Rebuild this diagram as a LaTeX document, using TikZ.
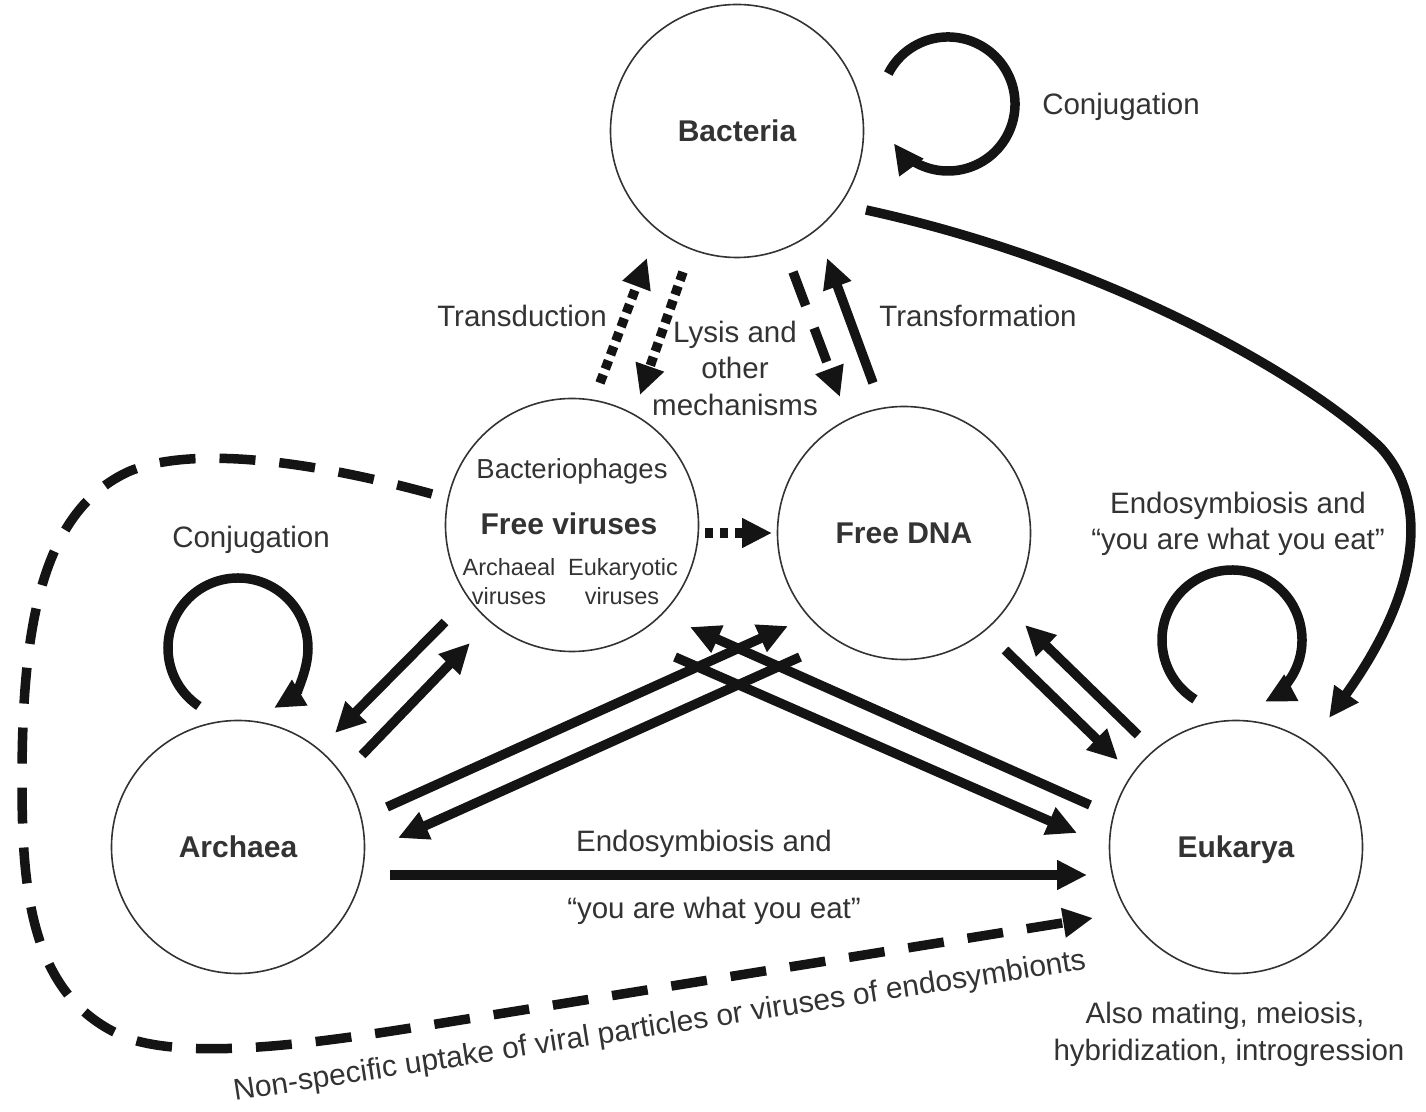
\documentclass[tikz,border=0pt]{standalone}
\usepackage{fontspec}
\setmainfont{Liberation Sans}
\usetikzlibrary{arrows.meta,calc}
\definecolor{ink}{HTML}{141414}
\definecolor{txt}{HTML}{333333}
\definecolor{circgray}{HTML}{333333}
\begin{document}
\begin{tikzpicture}[x=1pt,y=1pt,
  circ/.style={circle, draw=circgray, line width=1.6pt, minimum size=253pt, inner sep=0pt,
    font=\bfseries\fontsize{30}{36}\selectfont, text=txt, text depth=0pt},
  lbl/.style={font=\fontsize{29.5}{36}\selectfont, text=txt, inner sep=0pt, anchor=base},
  smalltxt/.style={font=\fontsize{23.5}{29}\selectfont, text=txt, inner sep=0pt, anchor=base},
  arr/.style={draw=ink, line width=9.5pt, -{Triangle[length=30pt,width=28pt]}},
  dotline/.style={dash pattern=on 9pt off 6pt},
  dashline/.style={dash pattern=on 36pt off 24pt},
]
\useasboundingbox (0,0) rectangle (1426,1111);

% circles
\node[circ] (bac) at (737,980) {Bacteria};
\node[circ] (fv)  at (572,586) {};
\node[circ] (dna) at (904,578) {Free DNA};
\node[circ] (arc) at (238,264) {Archaea};
\node[circ] (euk) at (1236,264) {Eukarya};

% free viruses contents
\node[lbl, font=\fontsize{27.5}{33}\selectfont] (phage) at (572,632) {Bacteriophages};
\node[lbl, font=\bfseries\fontsize{30}{36}\selectfont] (fvt) at (569,576) {Free viruses};
\node[smalltxt] (av1) at (509,535) {Archaeal};
\node[smalltxt] (av2) at (509,506) {viruses};
\node[smalltxt] (ev1) at (623,535) {Eukaryotic};
\node[smalltxt] (ev2) at (622,506) {viruses};

% labels
\node[lbl] (conjB) at (1121,996) {Conjugation};
\node[lbl] (conjA) at (251,563) {Conjugation};
\node[lbl] (transd) at (522,784) {Transduction};
\node[lbl] (transf) at (978,784) {Transformation};
\node[lbl] (lys1) at (735,768) {Lysis and};
\node[lbl] (lys2) at (735,732) {other};
\node[lbl] (lys3) at (735,695) {mechanisms};
\node[lbl] (endR1) at (1238,597) {Endosymbiosis and};
\node[lbl] (endR2) at (1238,561) {``you are what you eat''};
\node[lbl] (endM1) at (704,259) {Endosymbiosis and};
\node[lbl] (endM2) at (714,192) {``you are what you eat''};
\node[lbl] (also1) at (1225,88) {Also mating, meiosis,};
\node[lbl] (also2) at (1229,51) {hybridization, introgression};
\node[lbl, font=\fontsize{30}{36}\selectfont, rotate=8.8] (nonsp) at (661,76) {Non-specific uptake of viral particles or viruses of endosymbionts};

% self loops
\draw[arr] ($(948,1007)+(153:67)$) arc[start angle=153, end angle=-144, radius=67];
\draw[arr] ($(238,463)+(236:70)$) arc[start angle=236, end angle=-59, radius=70];
\draw[arr] ($(1232,471)+(238:70)$) arc[start angle=238, end angle=-62, radius=70];

% connector end points
\coordinate (tdUs) at (600,728);  \coordinate (tdUe) at (647,853);
\coordinate (tdDs) at (683,839);  \coordinate (tdDe) at (640,716);
\coordinate (lyDs) at (793,839);  \coordinate (lyDe) at (840,714);
\coordinate (tfUs) at (873,728);  \coordinate (tfUe) at (827,853);
\coordinate (fdS) at (705,578);   \coordinate (fdE) at (772,578);
\coordinate (faS) at (445,489);   \coordinate (faE) at (335,378);
\coordinate (afS) at (362,356);   \coordinate (afE) at (470,468);
\coordinate (adS) at (387,304);   \coordinate (adE) at (788,485);
\coordinate (daS) at (800,454);   \coordinate (daE) at (398,273);
\coordinate (feS) at (675,454);   \coordinate (feE) at (1077,278);
\coordinate (efS) at (1090,306);  \coordinate (efE) at (690,484);
\coordinate (deS) at (1005,461);  \coordinate (deE) at (1118,351);
\coordinate (edS) at (1138,376);  \coordinate (edE) at (1025,486);
\coordinate (aeS) at (390,236);   \coordinate (aeE) at (1087,236);
\coordinate (beS) at (866,901);   \coordinate (beM) at (1380,664);  \coordinate (beE) at (1329,393);
\coordinate (nsS) at (432,617);   \coordinate (nsE) at (1093,193);

% transduction / lysis / transformation
\draw[arr, dotline] (tdUs) -- (tdUe);
\draw[arr, dotline] (tdDs) -- (tdDe);
\draw[arr, dashline] (lyDs) -- (lyDe);
\draw[arr] (tfUs) -- (tfUe);

% free viruses -> free DNA
\draw[arr, dash pattern=on 8pt off 7pt] (fdS) -- (fdE);

% archaea <-> free viruses
\draw[arr] (faS) -- (faE);
\draw[arr] (afS) -- (afE);

% crossing arrows
\draw[arr] (adS) -- (adE);
\draw[arr] (daS) -- (daE);
\draw[arr] (feS) -- (feE);
\draw[arr] (efS) -- (efE);

% free DNA <-> eukarya
\draw[arr] (deS) -- (deE);
\draw[arr] (edS) -- (edE);

% archaea -> eukarya
\draw[arr] (aeS) -- (aeE);

% bacteria -> eukarya
\draw[arr] (beS) .. controls (1100,850) and (1300,740) .. (beM)
                 .. controls (1430,610) and (1420,520) .. (beE);

% non-specific uptake dashed path
\draw[arr, dashline] (nsS) .. controls (330,645) and (200,668) .. (130,640)
   .. controls (40,600) and (22,480) .. (22,330)
   .. controls (22,220) and (30,110) .. (130,72)
   .. controls (200,50) and (330,70) .. (430,86)
   -- (nsE);
\end{tikzpicture}
\end{document}
